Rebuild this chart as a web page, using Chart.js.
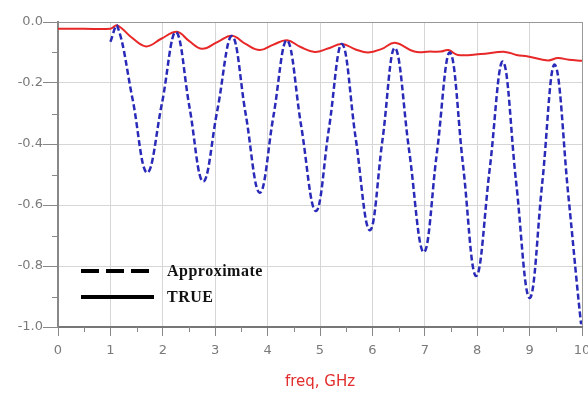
<!DOCTYPE html>
<html lang="en">
<head>
  <title>Approximate vs TRUE</title>
  <meta charset="UTF-8">
  <script src="https://cdn.jsdelivr.net/npm/chart.js@4"></script>
  <style>
    * {
      margin: 0;
      padding: 0;
      box-sizing: border-box;
    }

    body {
      background-color: white;
      width: 588px;
      height: 396px;
      overflow: hidden;
      position: relative;
    }

    #legend {
      position: absolute;
      left: 81px;
      top: 258px;
      font-family: 'Liberation Serif', 'Times New Roman', serif;
      font-weight: bold;
      font-size: 16px;
      letter-spacing: 0.5px;
      color: #111;
    }

    .row {
      display: flex;
      align-items: center;
      height: 26px;
    }

    .sample {
      width: 73px;
      height: 4px;
      margin-right: 13px;
    }

    .dashed {
      background: repeating-linear-gradient(90deg, #000 0 18px, transparent 18px 25px);
    }

    .solid {
      background: #000;
    }
  </style>
</head>
<body>

  <canvas id="chart" width="588" height="396"></canvas>

  <div id="legend">
    <div class="row"><div class="sample dashed"></div>Approximate</div>
    <div class="row"><div class="sample solid"></div>TRUE</div>
  </div>

  <script>

    // frequency in GHz, response values
    var freqApprox = [1.0, 1.13, 1.42, 1.70, 1.98, 2.25, 2.51, 2.77, 3.04, 3.32, 3.58, 3.85, 4.11,
                      4.37, 4.64, 4.92, 5.17, 5.42, 5.68, 5.95, 6.19, 6.43, 6.70, 6.98, 7.23,
                      7.48, 7.73, 7.98, 8.24, 8.49, 8.74, 9.0, 9.24, 9.48, 9.74, 9.98, 10.0];
    var approxVals = [-0.065, -0.013, -0.25, -0.494, -0.27, -0.033, -0.28, -0.523, -0.29, -0.046, -0.30, -0.56, -0.31,
                      -0.06, -0.34, -0.62, -0.35, -0.072, -0.38, -0.683, -0.39, -0.085, -0.42, -0.755, -0.43,
                      -0.10, -0.47, -0.833, -0.48, -0.13, -0.52, -0.905, -0.53, -0.14, -0.57, -0.987, -0.985];

    var freqTrue = [0, 0.5, 1.0, 1.13, 1.4, 1.68, 1.97, 2.27, 2.5, 2.75, 3.05, 3.32, 3.58, 3.85, 4.1,
                    4.37, 4.63, 4.9, 5.15, 5.42, 5.68, 5.92, 6.18, 6.43, 6.8, 7.1, 7.3, 7.45, 7.63,
                    8.07, 8.53, 8.75, 8.97, 9.35, 9.54, 9.75, 10];
    var trueVals = [-0.022, -0.022, -0.022, -0.011, -0.05, -0.08, -0.055, -0.032, -0.062, -0.088, -0.065, -0.045, -0.072, -0.092, -0.075,
                    -0.06, -0.082, -0.098, -0.087, -0.072, -0.09, -0.1, -0.088, -0.068, -0.097, -0.097, -0.097, -0.092, -0.108,
                    -0.105, -0.098, -0.108, -0.113, -0.126, -0.118, -0.124, -0.127];

    // minor tick positions
    var yMinor = [-0.1, -0.3, -0.5, -0.7, -0.9];
    var xMinor = [0.5, 1.5, 2.5, 3.5, 4.5, 5.5, 6.5, 7.5, 8.5, 9.5];

    function toPoints(xs, ys) {
      return xs.map(function (x, i) { return { x: x, y: ys[i] }; });
    }

    const minorTicks = {
      id: 'minorTicks',
      afterDraw(chart) {
        const ctx = chart.ctx;
        const xs = chart.scales.x;
        const ys = chart.scales.y;
        ctx.save();
        ctx.strokeStyle = '#888';
        ctx.lineWidth = 1;
        ctx.beginPath();
        yMinor.forEach(function (v) {
          const py = Math.round(ys.getPixelForValue(v)) + 0.5;
          ctx.moveTo(ys.right - 6, py);
          ctx.lineTo(ys.right, py);
        });
        xMinor.forEach(function (v) {
          const px = Math.round(xs.getPixelForValue(v)) + 0.5;
          ctx.moveTo(px, xs.top);
          ctx.lineTo(px, xs.top + 5);
        });
        ctx.stroke();
        ctx.restore();
      }
    };

    const tickFont = { family: "'DejaVu Sans', sans-serif", size: 13 };

    new Chart(document.getElementById('chart'), {
      type: 'line',
      data: {
        datasets: [{
          label: 'Approximate',
          data: toPoints(freqApprox, approxVals),
          borderColor: 'rgb(42, 42, 185)',
          borderWidth: 2.5,
          borderDash: [6, 3],
          pointRadius: 0,
          fill: false,
          tension: 0.4
        }, {
          label: 'TRUE',
          data: toPoints(freqTrue, trueVals),
          borderColor: 'rgb(232, 40, 40)',
          borderWidth: 2,
          pointRadius: 0,
          fill: false,
          tension: 0.4
        }]
      },
      options: {
        responsive: false,
        animation: false,
        layout: { padding: { top: 22, right: 6, left: 0, bottom: 0 } },
        plugins: {
          legend: { display: false },
          tooltip: { enabled: false }
        },
        scales: {
          x: {
            type: 'linear',
            min: 0,
            max: 10,
            ticks: { stepSize: 1, color: '#7a7a7a', font: tickFont, padding: 7, maxRotation: 0 },
            grid: {
              color: function (c) { return c.tick && c.tick.value === 10 ? '#999' : '#d6d6d6'; },
              tickColor: '#888',
              tickLength: 9
            },
            border: { color: '#777', width: 2 },
            title: {
              display: true,
              text: 'freq, GHz',
              color: 'rgb(225, 45, 45)',
              font: { family: "'DejaVu Sans', sans-serif", size: 15 },
              padding: { top: 0, bottom: 5 }
            },
            afterFit: function (scale) {
              scale.height = 69;
              scale.paddingLeft = 0;
              scale.paddingRight = 0;
            }
          },
          y: {
            min: -1,
            max: 0,
            ticks: {
              stepSize: 0.2,
              color: '#7a7a7a',
              font: tickFont,
              padding: 0,
              callback: function (v) { return v.toFixed(1); }
            },
            grid: {
              color: function (c) { return c.tick && c.tick.value === 0 ? '#999' : '#d6d6d6'; },
              tickColor: '#888',
              tickLength: 15
            },
            border: { color: '#888', width: 2 },
            afterFit: function (scale) {
              scale.width = 58;
            }
          }
        }
      },
      plugins: [minorTicks]
    });

  </script>
</body>
</html>
